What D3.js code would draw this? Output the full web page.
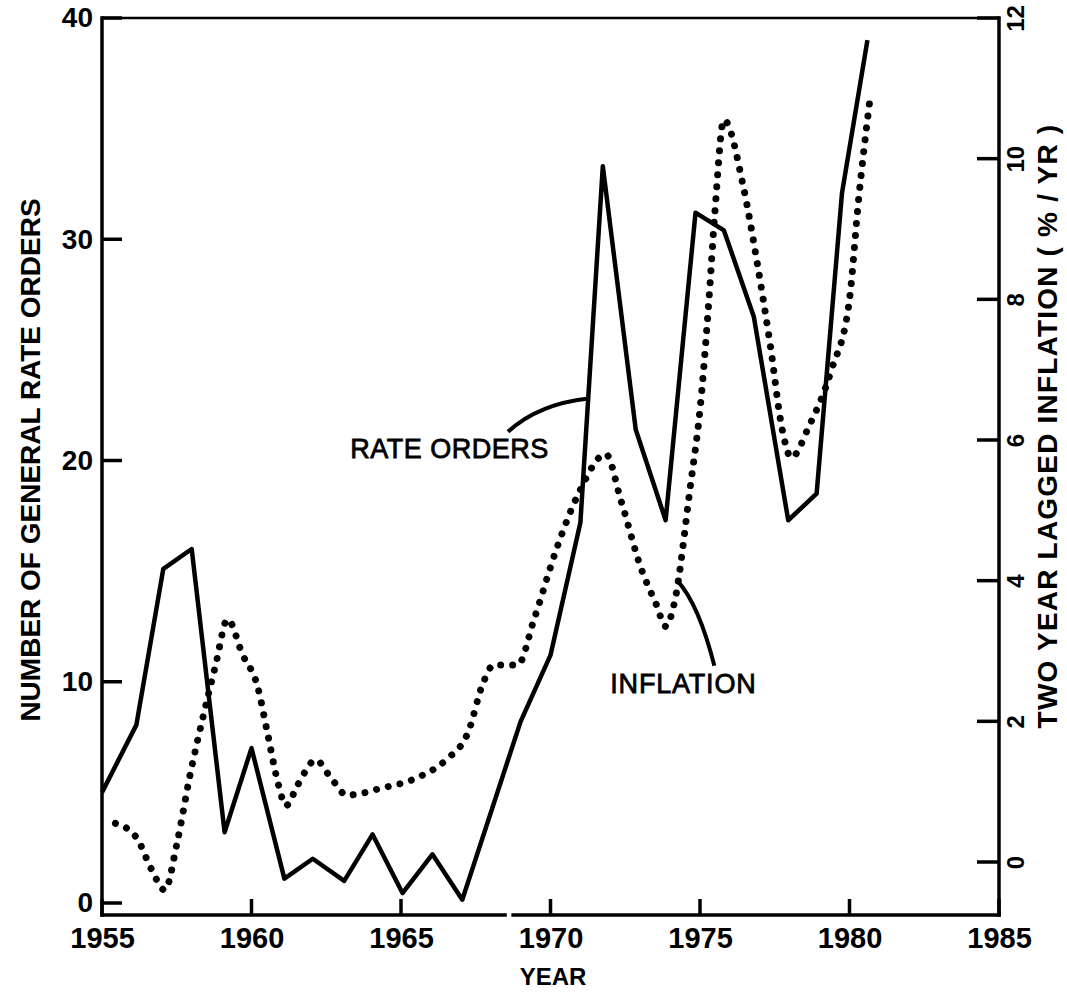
<!DOCTYPE html>
<html>
<head>
<meta charset="utf-8">
<script src="https://cdn.jsdelivr.net/npm/d3@7"></script>
<style>
  body { margin: 0; background: #fff; }
  svg { display: block; font-family: 'Liberation Sans', Arial, sans-serif; }
</style>
</head>
<body>
<div id="chart"></div>
<script>
// values
const rateYears = [1955, 1956.15, 1957.05, 1958, 1959.1, 1960, 1961.1, 1962.05, 1963.1,
  1964.05, 1965.05, 1966.05, 1967.05, 1969, 1970, 1971, 1971.75, 1972.85, 1973.85,
  1974.85, 1975.8, 1976.8, 1977.95, 1978.9, 1979.75, 1980.6];
const rateOrders = [5.0, 8.05, 15.1, 16.0, 3.2, 7.0, 1.1, 2.0, 1.0,
  3.1, 0.45, 2.2, 0.15, 8.2, 11.2, 17.2, 33.3, 21.4, 17.3,
  31.2, 30.4, 26.5, 17.3, 18.5, 32.1, 39.0];

const inflationYears = [1955.45, 1956.15, 1956.65, 1957.1, 1957.5, 1957.95, 1958.4, 1958.8,
  1959.2, 1959.7, 1960.2, 1960.55, 1960.9, 1961.15, 1961.55, 1962.15, 1962.65, 1963.2,
  1964.35, 1965.55, 1966.5, 1967.25, 1967.75, 1968.1, 1968.9, 1969.45, 1970.2, 1970.95,
  1971.85, 1972.35, 1973.05, 1973.55, 1973.85, 1974.15, 1974.65, 1975.05, 1975.3, 1975.5,
  1975.8, 1976.45, 1976.9, 1977.35, 1977.75, 1978.05, 1978.65, 1979.4, 1980.0, 1980.3, 1980.7];
const inflation = [0.55, 0.35, -0.1, -0.4, 0.25, 1.25, 2.1, 2.8,
  3.45, 2.95, 2.5, 1.8, 1.1, 0.8, 1.1, 1.45, 1.2, 0.95,
  1.05, 1.2, 1.45, 1.85, 2.55, 2.8, 2.8, 3.45, 4.45, 5.25,
  5.8, 5.15, 4.15, 3.65, 3.35, 3.7, 5.25, 6.65, 8.0, 9.25,
  10.55, 9.6, 8.55, 7.35, 6.15, 5.75, 6.2, 7.0, 8.0, 9.4, 10.9];

const yearTicks = [1955, 1960, 1965, 1970, 1975, 1980, 1985];
const orderTicks = [0, 10, 20, 30, 40];
const inflationTicks = [0, 2, 4, 6, 8, 10, 12];
const axisBreak = [1968.48, 1968.75];

const rateData = rateYears.map((year, i) => ({year: year, value: rateOrders[i]}));
const inflationData = inflationYears.map((year, i) => ({year: year, value: inflation[i]}));

const svg = d3.select('#chart').append('svg')
    .attr('width', 1067)
    .attr('height', 992);

svg.append('rect')
    .attr('width', 1067)
    .attr('height', 992)
    .attr('fill', '#fff');

const margin = {top: 18, right: 68, bottom: 77, left: 102},
    width = 1067 - margin.left - margin.right,
    height = 992 - margin.top - margin.bottom;

const x = d3.scaleLinear().domain([1955, 1985]).range([0, width]),
    yLeft = d3.scaleLinear().domain([0, 40]).range([885, 0]),
    yRight = d3.scaleLinear().domain([0, 12]).range([844, 0]);

const g = svg.append('g')
    .attr('transform', 'translate(' + margin.left + ',' + margin.top + ')');

// axis labels come from d3 axes; tick marks are drawn inward below
const xAxis = d3.axisBottom(x)
    .tickValues(yearTicks)
    .tickFormat(d3.format('d'))
    .tickSize(0)
    .tickPadding(12);

const leftAxis = d3.axisLeft(yLeft)
    .tickValues(orderTicks)
    .tickSize(0)
    .tickPadding(9);

const rightAxis = d3.axisRight(yRight)
    .tickValues(inflationTicks)
    .tickSize(0);

g.append('g')
    .attr('class', 'axis axis--x')
    .attr('transform', 'translate(0,' + height + ')')
    .call(xAxis)
    .call(a => a.select('.domain').remove())
    .call(a => a.selectAll('.tick text').attr('font-size', 29).attr('font-weight', 'bold'));

g.append('g')
    .attr('class', 'axis axis--left')
    .call(leftAxis)
    .call(a => a.select('.domain').remove())
    .call(a => a.selectAll('.tick text').attr('font-size', 28).attr('font-weight', 'bold'));

g.append('g')
    .attr('class', 'axis axis--right')
    .attr('transform', 'translate(' + width + ',0)')
    .call(rightAxis)
    .call(a => a.select('.domain').remove())
    .call(a => a.selectAll('.tick text')
        .attr('x', 0)
        .attr('dy', '0.35em')
        .attr('text-anchor', 'middle')
        .attr('transform', 'translate(17,0) rotate(-90)')
        .attr('font-size', 24)
        .attr('font-weight', 'bold'));

g.selectAll('.tick text').attr('fill', '#000');

const marks = g.append('g')
    .attr('fill', 'none')
    .attr('stroke', '#000')
    .attr('stroke-width', 3.5);

marks.selectAll('.mark-x')
    .data(yearTicks)
    .join('path')
    .attr('class', 'mark-x')
    .attr('d', d => 'M' + x(d) + ',' + height + 'V' + (height - 16));

marks.selectAll('.mark-left')
    .data(orderTicks)
    .join('path')
    .attr('class', 'mark-left')
    .attr('d', d => 'M0,' + yLeft(d) + 'H20');

marks.selectAll('.mark-right')
    .data(inflationTicks)
    .join('path')
    .attr('class', 'mark-right')
    .attr('d', d => 'M' + width + ',' + yRight(d) + 'H' + (width - 22));

// frame
const frame = g.append('g')
    .attr('stroke', '#000')
    .attr('stroke-linecap', 'square');

frame.append('line')
    .attr('x1', 0).attr('x2', width)
    .attr('y1', 0).attr('y2', 0)
    .attr('stroke-width', 2.5);
frame.append('line')
    .attr('x1', 0).attr('x2', 0)
    .attr('y1', 0).attr('y2', height)
    .attr('stroke-width', 3.5);
frame.append('line')
    .attr('x1', width).attr('x2', width)
    .attr('y1', 0).attr('y2', height)
    .attr('stroke-width', 3.5);
frame.append('line')
    .attr('x1', 0).attr('x2', x(axisBreak[0]))
    .attr('y1', height).attr('y2', height)
    .attr('stroke-width', 3.5);
frame.append('line')
    .attr('x1', x(axisBreak[1])).attr('x2', width)
    .attr('y1', height).attr('y2', height)
    .attr('stroke-width', 3.5);

// series
const rateLine = d3.line()
    .x(d => x(d.year))
    .y(d => yLeft(d.value));

const inflationLine = d3.line()
    .curve(d3.curveMonotoneX)
    .x(d => x(d.year))
    .y(d => yRight(d.value));

g.append('path')
    .datum(inflationData)
    .attr('fill', 'none')
    .attr('stroke', '#000')
    .attr('stroke-width', 7)
    .attr('stroke-linecap', 'round')
    .attr('stroke-dasharray', '0.01 12')
    .attr('d', inflationLine);

g.append('path')
    .datum(rateData)
    .attr('fill', 'none')
    .attr('stroke', '#000')
    .attr('stroke-width', 4.5)
    .attr('stroke-linejoin', 'round')
    .attr('d', rateLine);

// annotations with leader curves
function leader(p0, c, p1) {
  const p = d3.path();
  p.moveTo(x(p0[0]), yLeft(p0[1]));
  p.quadraticCurveTo(x(c[0]), yLeft(c[1]), x(p1[0]), yLeft(p1[1]));
  return p.toString();
}

g.append('path')
    .attr('d', leader([1968.58, 21.3], [1969.6, 22.55], [1971.26, 22.8]))
    .attr('fill', 'none')
    .attr('stroke', '#000')
    .attr('stroke-width', 4);

g.append('path')
    .attr('d', leader([1974.24, 14.57], [1974.96, 13.5], [1975.48, 10.72]))
    .attr('fill', 'none')
    .attr('stroke', '#000')
    .attr('stroke-width', 4);

g.append('text')
    .attr('x', x(1963.3))
    .attr('y', yLeft(20.1))
    .attr('font-size', 27)
    .attr('letter-spacing', 0.5)
    .attr('stroke', '#000')
    .attr('stroke-width', 0.8)
    .text('RATE ORDERS');

g.append('text')
    .attr('x', x(1972.0))
    .attr('y', yLeft(9.5))
    .attr('font-size', 27)
    .attr('letter-spacing', 0.8)
    .attr('stroke', '#000')
    .attr('stroke-width', 0.8)
    .text('INFLATION');

// axis titles
svg.append('text')
    .attr('transform', 'translate(40,460) rotate(-90)')
    .attr('text-anchor', 'middle')
    .attr('font-size', 28)
    .attr('font-weight', 'bold')
    .text('NUMBER OF GENERAL RATE ORDERS');

svg.append('text')
    .attr('transform', 'translate(1057,426) rotate(-90)')
    .attr('text-anchor', 'middle')
    .attr('font-size', 28)
    .attr('font-weight', 'bold')
    .attr('letter-spacing', 1.2)
    .text('TWO YEAR LAGGED INFLATION ( % / YR )');

svg.append('text')
    .attr('x', 553)
    .attr('y', 985)
    .attr('text-anchor', 'middle')
    .attr('font-size', 24)
    .attr('font-weight', 'bold')
    .text('YEAR');
</script>
</body>
</html>
